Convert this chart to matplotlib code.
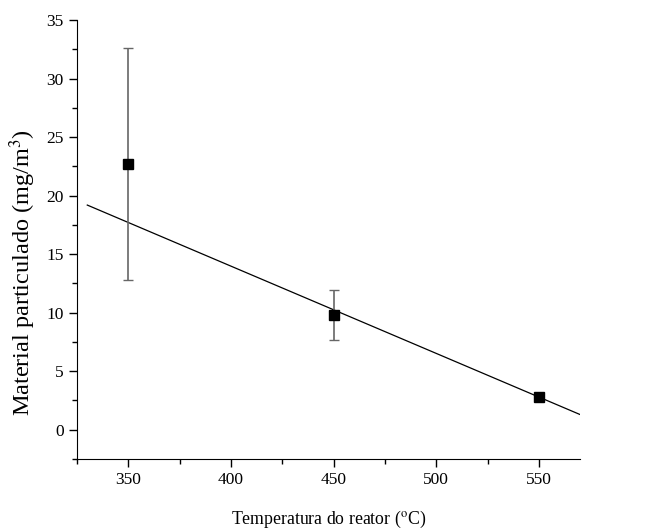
import numpy as np
import matplotlib
matplotlib.use('Agg')
from matplotlib import pyplot as plt
from matplotlib.ticker import MultipleLocator

# measured points
temps = [350, 450, 550]
pm = [22.7, 9.8, 2.8]
pm_err = [9.9, 2.15, 0.3]

# fitted line ends
fit_x = [330, 570]
fit_y = [19.2, 1.3]

plt.rcParams['font.family'] = 'Liberation Serif'
plt.rcParams['mathtext.fontset'] = 'stix'

fig = plt.figure(figsize=(6.68, 5.31), dpi=100)
ax = fig.add_axes([0.1153, 0.1356, 0.753, 0.8264])

ax.errorbar(temps, pm, yerr=pm_err, fmt='s', color='black', ms=6.5,
            ecolor='#666666', elinewidth=1.2, capsize=3.8, capthick=1, zorder=3)
ax.plot(fit_x, fit_y, color='black', lw=0.9)

ax.set_xlim(325, 570)
ax.set_ylim(-2.5, 35)
ax.xaxis.set_major_locator(MultipleLocator(50))
ax.xaxis.set_minor_locator(MultipleLocator(25))
ax.yaxis.set_major_locator(MultipleLocator(5))
ax.yaxis.set_minor_locator(MultipleLocator(2.5))

ax.spines['top'].set_visible(False)
ax.spines['right'].set_visible(False)
ax.tick_params(which='major', direction='out', length=6, width=1, labelsize=12.5)
ax.tick_params(which='minor', direction='out', length=3.5, width=1)

ax.set_xlabel(r'Temperatura do reator ($^{\mathrm{o}}$C)', fontsize=12.8, labelpad=15)
ax.set_ylabel(r'Material particulado (mg/m$^{3}$)', fontsize=17.5)
ax.yaxis.set_label_coords(-0.078, 0.426)

plt.savefig('out.png', dpi=100)
